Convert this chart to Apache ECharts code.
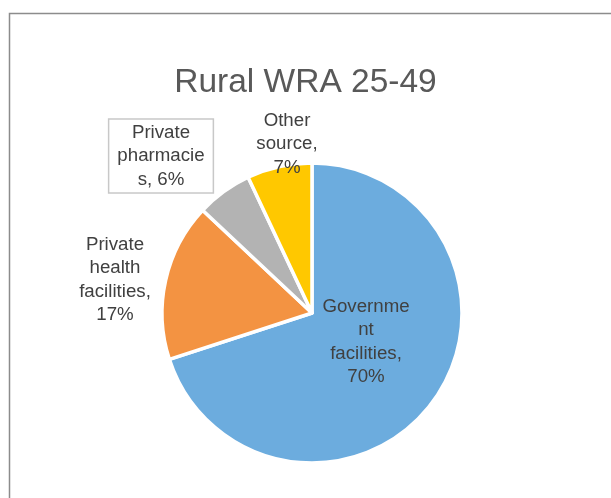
<!DOCTYPE html>
<html>
<head>
<meta charset="utf-8">
<script src="https://cdn.jsdelivr.net/npm/echarts@6/dist/echarts.min.js"></script>
<style>
  html, body { margin: 0; padding: 0; background: #fff; }
  #chart { width: 611px; height: 498px; }
</style>
</head>
<body>
<div id="chart"></div>
<script>
// Sources of supply among rural women of reproductive age 25-49
const chartTitle = 'Rural WRA 25-49';
const categories = ['Government facilities', 'Private health facilities', 'Private pharmacies', 'Other source'];
const shares = [70, 17, 6, 7];
// Wrapped label text, {v} is replaced by the slice's value
const labelTemplates = [
  'Governme\nnt\nfacilities,\n{v}%',
  'Private\nhealth\nfacilities,\n{v}%',
  'Private\npharmacie\ns, {v}%',
  'Other\nsource,\n{v}%'
];
const sliceColors = ['#6CACDE', '#F39342', '#B3B3B3', '#FFC800'];

// Label anchor points (block centres)
const labelAnchors = [
  [366, 342],
  [115, 280],
  [161, 156],
  [287, 144]
];

const chart = echarts.init(document.getElementById('chart'), null, { renderer: 'canvas' });

chart.setOption({
  animation: false,
  backgroundColor: '#ffffff',
  title: {
    text: chartTitle,
    left: 'center',
    top: 61,
    textStyle: {
      fontFamily: 'Liberation Sans',
      fontSize: 33.5,
      fontWeight: 'normal',
      color: '#595959'
    }
  },
  graphic: [
    {
      type: 'polyline',
      shape: { points: [[9.5, 600], [9.5, 13.5], [700, 13.5]] },
      style: { stroke: '#8c8c8c', lineWidth: 1.5, fill: null },
      silent: true
    }
  ],
  series: [
    {
      type: 'pie',
      center: [312, 313],
      radius: 150,
      startAngle: 90,
      clockwise: true,
      avoidLabelOverlap: false,
      itemStyle: { borderColor: '#ffffff', borderWidth: 3.5 },
      labelLine: { show: false },
      label: {
        show: true,
        position: 'outside',
        fontFamily: 'Liberation Sans',
        fontSize: 18.7,
        lineHeight: 23.5,
        color: '#404040',
        align: 'center',
        formatter: p => labelTemplates[p.dataIndex].replace('{v}', p.value)
      },
      labelLayout: p => ({
        x: labelAnchors[p.dataIndex][0],
        y: labelAnchors[p.dataIndex][1],
        align: 'center',
        verticalAlign: 'middle'
      }),
      data: categories.map((name, i) => {
        const d = { name, value: shares[i], itemStyle: { color: sliceColors[i] } };
        if (i === 2) {
          d.label = {
            backgroundColor: '#ffffff',
            borderColor: '#c8c8c8',
            borderWidth: 1.5,
            padding: [1, 8, 1, 8]
          };
        }
        return d;
      })
    }
  ]
});
</script>
</body>
</html>
